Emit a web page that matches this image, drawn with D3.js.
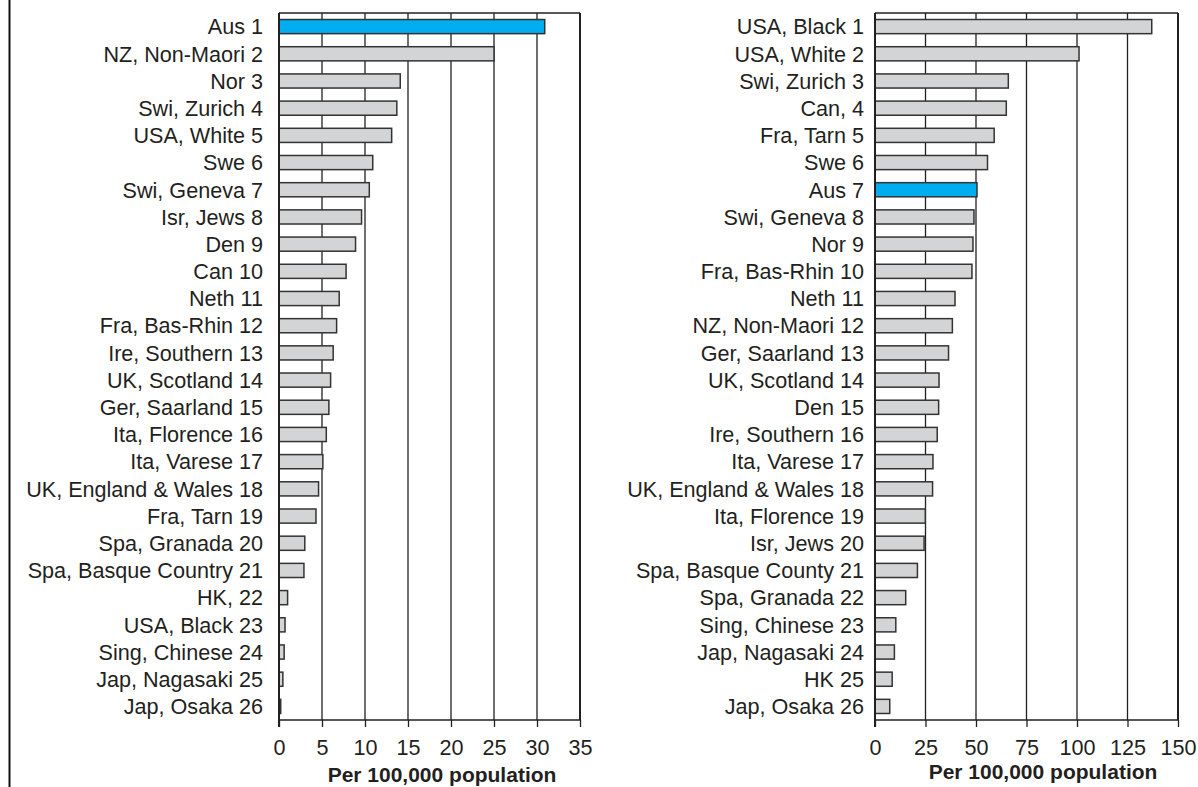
<!DOCTYPE html>
<html>
<head>
<meta charset="utf-8">
<script src="https://cdn.jsdelivr.net/npm/d3@7"></script>
<style>
  body { margin: 0; background: #fff; }
  svg { display: block; font-family: "Liberation Sans", Arial, sans-serif; }
</style>
</head>
<body>
<svg id="chart" width="1198" height="787"></svg>
<script>
// left panel
var leftNames = ["Aus 1", "NZ, Non-Maori 2", "Nor 3", "Swi, Zurich 4", "USA, White 5", "Swe 6",
    "Swi, Geneva 7", "Isr, Jews 8", "Den 9", "Can 10", "Neth 11", "Fra, Bas-Rhin 12",
    "Ire, Southern 13", "UK, Scotland 14", "Ger, Saarland 15", "Ita, Florence 16",
    "Ita, Varese 17", "UK, England & Wales 18", "Fra, Tarn 19", "Spa, Granada 20",
    "Spa, Basque Country 21", "HK, 22", "USA, Black 23", "Sing, Chinese 24",
    "Jap, Nagasaki 25", "Jap, Osaka 26"];
var leftValues = [30.9, 25.0, 14.1, 13.7, 13.1, 10.9, 10.5, 9.6, 8.9, 7.8, 7.0, 6.7,
    6.3, 6.0, 5.8, 5.5, 5.1, 4.6, 4.3, 3.0, 2.9, 1.0, 0.7, 0.6, 0.45, 0.2];
var leftTicks = [0, 5, 10, 15, 20, 25, 30, 35];

// right panel
var rightNames = ["USA, Black 1", "USA, White 2", "Swi, Zurich 3", "Can, 4", "Fra, Tarn 5",
    "Swe 6", "Aus 7", "Swi, Geneva 8", "Nor 9", "Fra, Bas-Rhin 10", "Neth 11",
    "NZ, Non-Maori 12", "Ger, Saarland 13", "UK, Scotland 14", "Den 15", "Ire, Southern 16",
    "Ita, Varese 17", "UK, England & Wales 18", "Ita, Florence 19", "Isr, Jews 20",
    "Spa, Basque County 21", "Spa, Granada 22", "Sing, Chinese 23", "Jap, Nagasaki 24",
    "HK 25", "Jap, Osaka 26"];
var rightValues = [137, 101, 66, 65, 59, 55.7, 50.5, 49, 48.5, 48, 39.6, 38.3, 36.4,
    31.7, 31.5, 30.8, 28.7, 28.5, 24.9, 24.3, 21, 15.2, 10.3, 9.6, 8.5, 7.3];
var rightTicks = [0, 25, 50, 75, 100, 125, 150];

var axisTitle = "Per 100,000 population";
var highlight = "Aus";

var svg = d3.select("#chart");
var ink = "#231f20";
var fontSize = "21.6px";

// outer left rule
svg.append("line")
    .attr("x1", 9.5).attr("x2", 9.5)
    .attr("y1", 0).attr("y2", 787)
    .attr("stroke", "#111").attr("stroke-width", 2);

function drawPanel(names, values, ticks, x0, x1, labelGap, titleX, titleY) {
    var top = 13, bottom = 720;
    var g = svg.append("g");

    var x = d3.scaleLinear()
        .domain([0, ticks[ticks.length - 1]])
        .range([x0, x1]);

    var y = d3.scaleBand()
        .domain(names)
        .range([top, bottom])
        .paddingInner(0.48)
        .paddingOuter(0.24);

    // gridlines
    g.selectAll(".grid")
        .data(ticks.slice(1))
        .enter().append("line")
        .attr("x1", d => x(d)).attr("x2", d => x(d))
        .attr("y1", top).attr("y2", bottom)
        .attr("stroke", ink)
        .attr("stroke-width", (d, i) => i == ticks.length - 2 ? 2 : 1.3);

    // top frame
    g.append("line")
        .attr("x1", x0).attr("x2", x1)
        .attr("y1", top).attr("y2", top)
        .attr("stroke", ink).attr("stroke-width", 1.5);

    // bars
    g.selectAll(".bar")
        .data(values)
        .enter().append("rect")
        .attr("x", x0)
        .attr("y", (d, i) => y(names[i]))
        .attr("width", d => x(d) - x0)
        .attr("height", y.bandwidth())
        .attr("fill", (d, i) => names[i].indexOf(highlight) == 0 ? "#00aeef" : "#d3d4d5")
        .attr("stroke", "#333")
        .attr("stroke-width", 1.5);

    // category labels
    g.selectAll(".lab")
        .data(names)
        .enter().append("text")
        .attr("x", x0 - labelGap)
        .attr("y", d => y(d) + y.bandwidth() / 2)
        .attr("dy", "0.36em")
        .attr("text-anchor", "end")
        .attr("font-size", fontSize)
        .attr("fill", ink)
        .text(d => d);

    // x axis
    var axis = g.append("g")
        .attr("transform", "translate(0," + bottom + ")")
        .call(d3.axisBottom(x).tickValues(ticks).tickSize(7).tickPadding(13).tickFormat(d3.format("d")));
    axis.select(".domain").remove();
    axis.selectAll(".tick line").attr("stroke", ink).attr("stroke-width", 1.3);
    axis.selectAll(".tick text")
        .attr("font-size", fontSize)
        .attr("font-family", "Liberation Sans, Arial, sans-serif")
        .attr("fill", ink);

    // axis line and zero line
    g.append("line")
        .attr("x1", x0).attr("x2", x1)
        .attr("y1", bottom).attr("y2", bottom)
        .attr("stroke", ink).attr("stroke-width", 1.5);
    g.append("line")
        .attr("x1", x0).attr("x2", x0)
        .attr("y1", top).attr("y2", bottom + 7)
        .attr("stroke", ink).attr("stroke-width", 2);

    g.append("text")
        .attr("x", titleX)
        .attr("y", titleY)
        .attr("text-anchor", "middle")
        .attr("font-size", "21px")
        .attr("font-weight", "bold")
        .attr("fill", ink)
        .text(axisTitle);
}

drawPanel(leftNames, leftValues, leftTicks, 279, 580, 16, 442, 782);
drawPanel(rightNames, rightValues, rightTicks, 875, 1178, 11, 1043, 779);
</script>
</body>
</html>
